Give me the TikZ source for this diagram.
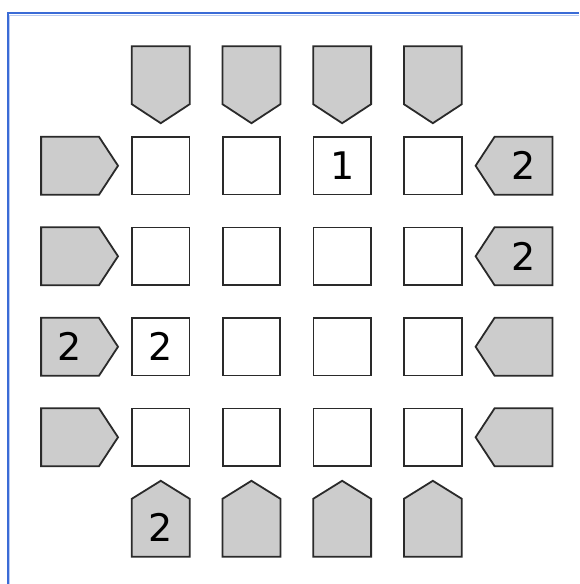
\documentclass[tikz,border=0pt]{standalone}
\usepackage{fontspec}
\setmainfont{DejaVu Sans}
\usetikzlibrary{calc}
\pgfdeclarelayer{background}
\pgfsetlayers{background,main}
\definecolor{frameblue}{HTML}{3A6BD6}
\definecolor{cluefill}{HTML}{CCCCCC}
\definecolor{linec}{HTML}{2A2A2A}
\tikzset{
  cellbox/.style={draw=linec, line width=1.8pt, fill=white, minimum size=57.5pt, inner sep=0pt,
    font=\fontsize{38}{38}\selectfont},
  cluebox/.style={minimum size=57.5pt, inner sep=0pt, font=\fontsize{38}{38}\selectfont},
  cluepath/.style={draw=linec, line width=1.8pt, fill=cluefill, line join=miter},
}
\begin{document}
\begin{tikzpicture}[x=1pt,y=-1pt]
\useasboundingbox (0,0) rectangle (579,584);
% grid cells
\foreach \r in {0,...,3}{
  \foreach \c in {0,...,3}{
    \node[cellbox] (c\r\c) at ({160.75+90.7*\c},{165.75+90.5*\r}) {};
  }
}
% clue nodes
\foreach \c in {0,...,3}{
  \node[cluebox] (t\c) at ({160.75+90.7*\c},75.25) {};
  \node[cluebox] (b\c) at ({160.75+90.7*\c},527.75) {};
}
\foreach \r in {0,...,3}{
  \node[cluebox] (l\r) at (70.05,{165.75+90.5*\r}) {};
  \node[cluebox] (r\r) at (523.55,{165.75+90.5*\r}) {};
}
% numbers
\node[cluebox] (n1) at (c02) {1};
\node[cluebox] (n2) at (c20) {2};
\node[cluebox] (n3) at (l2) {2};
\node[cluebox] (n4) at (r0) {2};
\node[cluebox] (n5) at (r1) {2};
\node[cluebox] (n6) at (b0) {2};
\begin{pgfonlayer}{background}
\fill[white] (0,0) rectangle (579,584);
\draw[frameblue, line width=2pt] (7.5,584) -- (7.5,13) -- (579,13);
\draw[frameblue!35, line width=1pt] (9.5,584) -- (9.5,15) -- (579,15);
\foreach \c in {0,...,3}{
  \draw[cluepath] (t\c.north west) -- (t\c.north east) -- (t\c.south east) -- ($(t\c.south)+(0,19)$) -- (t\c.south west) -- cycle;
  \draw[cluepath] (b\c.south west) -- (b\c.south east) -- (b\c.north east) -- ($(b\c.north)+(0,-18)$) -- (b\c.north west) -- cycle;
}
\foreach \r in {0,...,3}{
  \draw[cluepath] (l\r.north west) -- (l\r.north east) -- ($(l\r.east)+(19,0)$) -- (l\r.south east) -- (l\r.south west) -- cycle;
  \draw[cluepath] (r\r.north east) -- (r\r.north west) -- ($(r\r.west)+(-19,0)$) -- (r\r.south west) -- (r\r.south east) -- cycle;
}
\end{pgfonlayer}
\end{tikzpicture}
\end{document}
